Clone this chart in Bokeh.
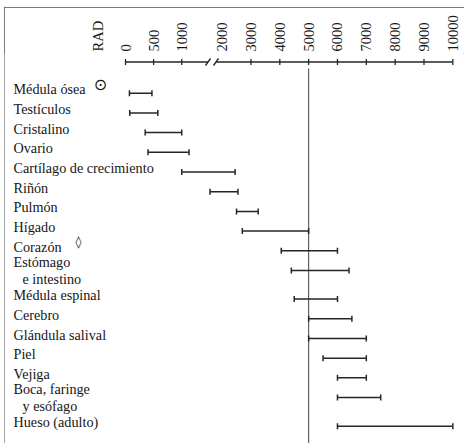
from bokeh.plotting import figure
from bokeh.models import Range1d, LinearAxis, FixedTicker, CustomJSTickFormatter, ColumnDataSource
from bokeh.core.properties import value
from bokeh.embed import file_html
from bokeh.resources import INLINE

# ---------------- data ----------------
organs = ["Médula ósea", "Testículos", "Cristalino", "Ovario",
          "Cartílago de crecimiento", "Riñón", "Pulmón", "Hígado", "Corazón",
          "Estómago\ne intestino", "Médula espinal", "Cerebro",
          "Glándula salival", "Piel", "Vejiga", "Boca, faringe\ny esófago",
          "Hueso (adulto)"]
rad_low = [70, 75, 350, 400, 1000, 1700, 2500, 2700, 4050, 4400, 4500,
           5000, 5000, 5500, 6000, 6000, 6000]
rad_high = [470, 575, 1000, 1180, 2450, 2550, 3250, 5000, 6000, 6400, 6000,
            6500, 7000, 7000, 7000, 7500, 10000]
footnote_marks = ["⊙", "", "", "", "", "", "", "", "◊", "", "", "", "", "", "", "", ""]
tick_rad = [0, 500, 1000, 2000, 3000, 4000, 5000, 6000, 7000, 8000, 9000, 10000]
tick_labels = ["0", "500", "1000", "2000", "3000", "4000", "5000", "6000",
               "7000", "8000", "9000", "10000"]
axis_title = "RAD"
reference_rad = 5000


# ---------------- broken scale: 0-1000 stretched, 1000-2000 compressed ----------------
def u(v):
    if v <= 1000:
        return v / 1000 * 1.95
    if v < 2000:
        return 1.95 + (v - 1000) / 1000 * 1.4
    return 3.35 + (v - 2000) / 1000


# ---------------- layout constants (page pixels) ----------------
OX, OY = 4, 7                # page position of the figure (framed box)
W, H = 460, 436
PX0, PXU = 125.0, 28.84      # page x of 0 RAD, pixels per unit
PY0, PYS = 92.7, 19.7        # page y of first row, pixels per row slot
FRAME_TOP = 53.0


def ux(px):
    return (px - PX0) / PXU


def sy(py):
    return (py - PY0) / PYS


x_range = Range1d(ux(OX), ux(OX + W))
y_range = Range1d(sy(OY + H), sy(FRAME_TOP))

p = figure(width=W, height=H, x_range=x_range, y_range=y_range,
           output_backend="svg", toolbar_location=None,
           x_axis_location=None, y_axis_location=None,
           min_border_left=0, min_border_right=0, min_border_bottom=0,
           min_border_top=int(FRAME_TOP - OY))
p.grid.visible = False
p.outline_line_color = None
p.background_fill_color = "white"
p.border_fill_color = "white"
p.styles = {"margin-left": f"{OX}px", "margin-top": f"{OY}px",
            "outline": "1.5px solid #505050", "outline-offset": "-1.5px"}

INK = "#262626"
TXT = "#161616"
SERIF = "Liberation Serif"

# ---------------- top axis (labels from a real axis) ----------------
title_u = ux(97)
ticks = [title_u] + [u(t) for t in tick_rad]
labels = [axis_title] + tick_labels
ax = LinearAxis(ticker=FixedTicker(ticks=ticks),
                formatter=CustomJSTickFormatter(args=dict(labels=labels),
                                                code="return labels[index]"))
ax.axis_line_color = None
ax.major_tick_line_color = None
ax.minor_tick_line_color = None
ax.major_tick_in = 0
ax.major_tick_out = 0
ax.major_label_standoff = 2
ax.major_label_orientation = "vertical"
ax.major_label_text_font = SERIF
ax.major_label_text_font_size = "14.5px"
ax.major_label_text_color = TXT
p.add_layout(ax, "above")

axis_y = sy(61.5)
tick_h = 3.0 / PYS
brk = u(1000) + 0.75 * (u(2000) - u(1000))
gap = 4.0 / PXU
# axis line with a break between 1000 and 2000
p.segment(x0=[u(0), brk + gap], y0=[axis_y, axis_y],
          x1=[brk - gap, u(tick_rad[-1])], y1=[axis_y, axis_y],
          line_color=INK, line_width=1.3)
# break marks "//"
sl = 2.5 / PXU
p.segment(x0=[brk - gap - sl, brk + gap - sl], y0=[axis_y + 3.5 / PYS] * 2,
          x1=[brk - gap + sl, brk + gap + sl], y1=[axis_y - 3.5 / PYS] * 2,
          line_color=INK, line_width=1.3)
# tick marks
tx = [u(t) for t in tick_rad if t != 2000]
p.segment(x0=tx, y0=[axis_y - tick_h] * len(tx), x1=tx, y1=[axis_y + tick_h] * len(tx),
          line_color=INK, line_width=1.3)

# reference line at 5000 RAD
p.segment(x0=[u(reference_rad)], y0=[sy(68)], x1=[u(reference_rad)], y1=[sy(OY + H)],
          line_color="#555", line_width=1.1)

# ---------------- rows ----------------
bar_y, text_y, text_s, text_off = [], [], [], []
s = 0.0
for name in organs:
    lines = name.split("\n")
    bar_y.append(s)
    if len(lines) == 1:
        text_y.append(s - 0.2); text_s.append(lines[0]); text_off.append(0)
    else:
        for j, ln in enumerate(lines):
            text_y.append(s + (-0.45 if j == 0 else 0.45)); text_s.append(ln)
            text_off.append(0 if j == 0 else 9)
    s += 1 + 0.45 * (len(lines) - 1)

x0 = [u(v) for v in rad_low]
x1 = [u(v) for v in rad_high]
src = ColumnDataSource(dict(x0=x0, x1=x1, y=bar_y,
                            yb=[y + 3.0 / PYS for y in bar_y],
                            yt=[y - 3.0 / PYS for y in bar_y]))
p.segment(x0="x0", y0="y", x1="x1", y1="y", source=src, line_color=INK, line_width=1.5)
p.segment(x0="x0", y0="yb", x1="x0", y1="yt", source=src, line_color=INK, line_width=1.5)
p.segment(x0="x1", y0="yb", x1="x1", y1="yt", source=src, line_color=INK, line_width=1.5)

lab = ColumnDataSource(dict(x=[ux(13)] * len(text_s), y=text_y, t=text_s, off=text_off))
p.text(x="x", y="y", text="t", x_offset="off", source=lab, text_font=value(SERIF),
       text_font_size="14.2px", text_color=TXT, text_baseline="middle", text_align="left")

# footnote marks next to labels
mark_px = {0: 100, 8: 78}
mark_size = {"⊙": "16px", "◊": "12px"}
mx, my, mt, ms = [], [], [], []
for i, m in enumerate(footnote_marks):
    if m:
        mx.append(ux(mark_px[i])); my.append(bar_y[i] - 0.45); mt.append(m)
        ms.append(mark_size[m])
msrc = ColumnDataSource(dict(x=mx, y=my, t=mt, fs=ms))
p.text(x="x", y="y", text="t", text_font_size="fs", source=msrc,
       text_font=value("DejaVu Sans"), text_color=TXT,
       text_baseline="middle", text_align="center")

open("out.html", "w").write(file_html(p, INLINE))
